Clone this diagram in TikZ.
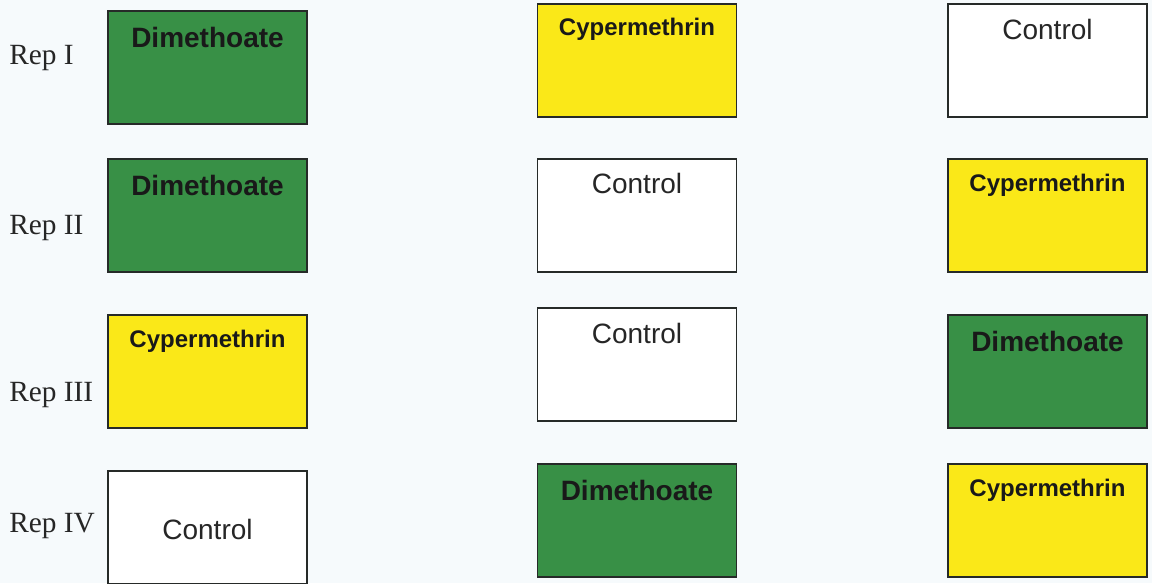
\documentclass[tikz,border=0pt]{standalone}
\usepackage{fontspec}
\setmainfont{Liberation Serif}
\newfontfamily\arialfont{Liberation Sans}

\definecolor{dimgreen}{RGB}{56,144,70}
\definecolor{cypyellow}{RGB}{250,232,24}
\definecolor{rahmen}{RGB}{38,42,40}
\definecolor{papier}{RGB}{246,250,252}

\tikzset{
  feld/.style={draw=rahmen, line width=1.1pt, minimum width=149.25pt, minimum height=84.75pt, inner sep=0pt},
  dimfeld/.style={feld, fill=dimgreen},
  cypfeld/.style={feld, fill=cypyellow},
  kontrollfeld/.style={feld, fill=white},
  dimtext/.style={anchor=base, text=black!90, font=\arialfont\bfseries\fontsize{21}{21}\selectfont},
  cyptext/.style={anchor=base, text=black!90, font=\arialfont\bfseries\fontsize{18}{18}\selectfont},
  kontrolltext/.style={anchor=base, text=black!85, font=\arialfont\fontsize{21}{21}\selectfont},
  reptext/.style={anchor=base west, inner sep=0pt, text=black!85, font=\fontsize{22}{22}\selectfont}
}

\begin{document}
\begin{tikzpicture}[x=0.75pt, y=-0.75pt]
        % Hintergrund
        \path[use as bounding box, fill=papier] (0,0) rectangle (1152,583);

        % Wiederholungen
        \node[reptext] (rep1) at (9,64) {Rep I};
        \node[reptext] (rep2) at (9,234) {Rep II};
        \node[reptext] (rep3) at (9,401) {Rep III};
        \node[reptext] (rep4) at (9,532) {Rep IV};

        % Rep I
        \node[dimfeld] (a1) at (207.5,67.5) {};
        \node[dimtext] (ta1) at ([yshift=-27.75pt]a1.north) {Dimethoate};
        \node[cypfeld] (b1) at (637,60.5) {};
        \node[cyptext] (tb1) at ([yshift=-24pt]b1.north) {Cypermethrin};
        \node[kontrollfeld] (c1) at (1047.5,60.5) {};
        \node[kontrolltext] (tc1) at ([yshift=-27pt]c1.north) {Control};

        % Rep II
        \node[dimfeld] (a2) at (207.5,215.5) {};
        \node[dimtext] (ta2) at ([yshift=-27.75pt]a2.north) {Dimethoate};
        \node[kontrollfeld] (b2) at (637,215.5) {};
        \node[kontrolltext] (tb2) at ([yshift=-26.25pt]b2.north) {Control};
        \node[cypfeld] (c2) at (1047.5,215.5) {};
        \node[cyptext] (tc2) at ([yshift=-24.75pt]c2.north) {Cypermethrin};

        % Rep III
        \node[cypfeld] (a3) at (207.5,371.5) {};
        \node[cyptext] (ta3) at ([yshift=-24.75pt]a3.north) {Cypermethrin};
        \node[kontrollfeld] (b3) at (637,364.5) {};
        \node[kontrolltext] (tb3) at ([yshift=-27pt]b3.north) {Control};
        \node[dimfeld] (c3) at (1047.5,371.5) {};
        \node[dimtext] (tc3) at ([yshift=-27.75pt]c3.north) {Dimethoate};

        % Rep IV
        \node[kontrollfeld] (a4) at (207.5,527.5) {};
        \node[kontrolltext] (ta4) at ([yshift=-51.75pt]a4.north) {Control};
        \node[dimfeld] (b4) at (637,520.5) {};
        \node[dimtext] (tb4) at ([yshift=-27.75pt]b4.north) {Dimethoate};
        \node[cypfeld] (c4) at (1047.5,520.5) {};
        \node[cyptext] (tc4) at ([yshift=-24.75pt]c4.north) {Cypermethrin};

    \end{tikzpicture}
\end{document}
